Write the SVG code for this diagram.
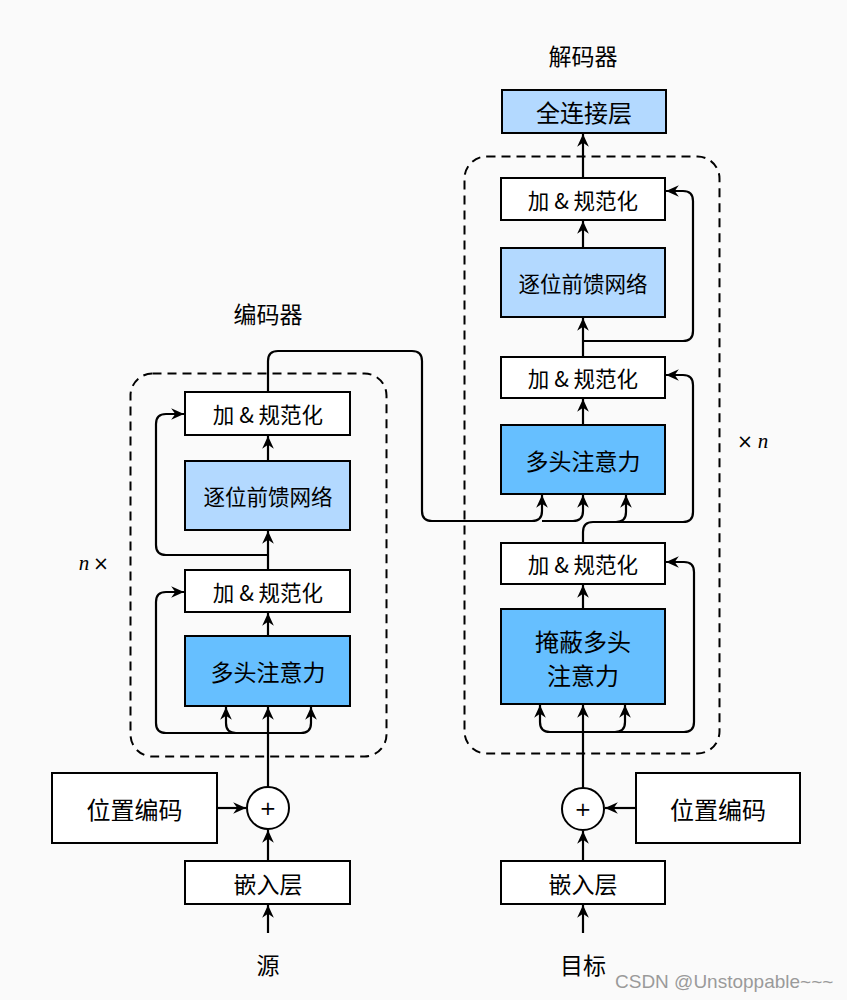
<svg xmlns="http://www.w3.org/2000/svg" width="847" height="1000" viewBox="0 0 847 1000">
<style>
.box{stroke:#000;stroke-width:2;fill:#fff}
.att{fill:#66bfff}
.ffn{fill:#b3d9ff}
.dash{fill:none;stroke:#000;stroke-width:2;stroke-dasharray:9 6}
.ln{fill:none;stroke:#000;stroke-width:2.2}
.arr{marker-end:url(#ah)}
text{font-family:"Noto Sans CJK SC","Noto Sans",sans-serif;fill:#000;text-anchor:middle;dominant-baseline:central}
.s20{font-size:21.5px}
.s23{font-size:23px}
.s24{font-size:24px}
.lbl{font-size:23px}
.it{font-family:"Liberation Serif",serif;font-style:italic;font-size:21px}
.x{font-family:"DejaVu Sans",sans-serif;font-size:19px}
.pl{font-family:"DejaVu Sans",sans-serif;font-size:20px}
.wm{font-family:"Liberation Sans",Arial,sans-serif;font-size:19px;fill:#9a9a9a;text-anchor:start}
</style>
<defs>
<marker id="ah" markerUnits="userSpaceOnUse" markerWidth="14" markerHeight="14" viewBox="0 0 12 12" refX="11" refY="6" orient="auto">
<path d="M0,1 L11,6 L0,11 L3.5,6 z" fill="#000"/>
</marker>
</defs>
<rect width="847" height="1000" fill="#fafafa"/>

<g id="labels">
<text x="268" y="313" class="lbl">编码器</text>
<text x="583" y="55" class="lbl">解码器</text>
<text x="84" y="563" class="it">n</text>
<text x="101" y="563" class="x">×</text>
<text x="745" y="441" class="x">×</text>
<text x="763" y="441" class="it">n</text>
<text x="268" y="964" class="s23">源</text>
<text x="583" y="964" class="s23">目标</text>
<text x="615" y="981" class="wm">CSDN @Unstoppable~~~</text>
</g>

<g id="enc-block"><rect x="130.5" y="373.5" width="256" height="383" rx="22" class="dash"/></g>
<g id="dec-block"><rect x="464.5" y="156.5" width="255" height="597" rx="22" class="dash"/></g>

<g id="enc-addnorm2"><rect x="185" y="392" width="165" height="43" class="box"/><text x="268" y="413.5" class="s20">加 &amp; 规范化</text></g>
<g id="enc-ffn"><rect x="185" y="461" width="165" height="69" class="box ffn"/><text x="268" y="495.5" class="s20">逐位前馈网络</text></g>
<g id="enc-addnorm1"><rect x="185" y="570" width="165" height="42" class="box"/><text x="268" y="591" class="s20">加 &amp; 规范化</text></g>
<g id="enc-att"><rect x="185" y="636" width="165" height="70" class="box att"/><text x="268" y="671" class="s23">多头注意力</text></g>
<g id="enc-pos"><rect x="52" y="773" width="165" height="70" class="box"/><text x="134.5" y="808" class="s24">位置编码</text></g>
<g id="enc-plus"><circle cx="268" cy="808" r="21" class="box"/><text x="268" y="808" class="pl">+</text></g>
<g id="enc-emb"><rect x="185" y="861" width="165" height="43" class="box"/><text x="268" y="882.5" class="s23">嵌入层</text></g>

<g id="dec-fc"><rect x="502" y="90" width="164" height="43" class="box ffn"/><text x="584" y="111.5" class="s24">全连接层</text></g>
<g id="dec-addnorm3"><rect x="501" y="178" width="164" height="42" class="box"/><text x="583" y="199" class="s20">加 &amp; 规范化</text></g>
<g id="dec-ffn"><rect x="501" y="248" width="164" height="69" class="box ffn"/><text x="583" y="282.5" class="s20">逐位前馈网络</text></g>
<g id="dec-addnorm2"><rect x="501" y="357" width="164" height="41" class="box"/><text x="583" y="377.5" class="s20">加 &amp; 规范化</text></g>
<g id="dec-att"><rect x="501" y="425" width="164" height="69" class="box att"/><text x="583" y="459.5" class="s23">多头注意力</text></g>
<g id="dec-addnorm1"><rect x="501" y="543" width="164" height="41" class="box"/><text x="583" y="563.5" class="s20">加 &amp; 规范化</text></g>
<g id="dec-mask"><rect x="501" y="609" width="164" height="95" class="box att"/><text x="583" y="640" class="s24">掩蔽多头</text><text x="583" y="674" class="s24">注意力</text></g>
<g id="dec-plus"><circle cx="583" cy="809" r="21" class="box"/><text x="583" y="809" class="pl">+</text></g>
<g id="dec-pos"><rect x="636" y="773" width="164" height="70" class="box"/><text x="718" y="808" class="s24">位置编码</text></g>
<g id="dec-emb"><rect x="501" y="861" width="164" height="43" class="box"/><text x="583" y="882.5" class="s23">嵌入层</text></g>

<g id="connectors">
<path class="ln arr" d="M268,933 V905"/>
<path class="ln arr" d="M268,861 V830"/>
<path class="ln arr" d="M217,808 H246"/>
<path class="ln arr" d="M268,787 V707"/>
<path class="ln arr" d="M268,733 H236 Q226,733 226,723 V707"/>
<path class="ln arr" d="M268,733 H301 Q311,733 311,723 V707"/>
<path class="ln arr" d="M268,733 H166 Q156,733 156,723 V602 Q156,592 166,592 H184"/>
<path class="ln arr" d="M268,636 V613"/>
<path class="ln arr" d="M268,570 V531"/>
<path class="ln arr" d="M268,555 H166 Q156,555 156,545 V424 Q156,414 166,414 H184"/>
<path class="ln arr" d="M268,461 V436"/>
<path class="ln arr" d="M268,392 V361 Q268,351 278,351 H412 Q422,351 422,361 V511 Q422,521 432,521 H532 Q542,521 542,511 V495"/>
<path class="ln arr" d="M542,521 H573 Q583,521 583,511 V495"/>
<path class="ln arr" d="M583,933 V905"/>
<path class="ln arr" d="M583,861 V831"/>
<path class="ln arr" d="M636,808 H605"/>
<path class="ln arr" d="M583,788 V705"/>
<path class="ln arr" d="M583,732 H550 Q540,732 540,722 V705"/>
<path class="ln arr" d="M583,732 H615 Q625,732 625,722 V705"/>
<path class="ln arr" d="M615,732 H684 Q694,732 694,722 V572 Q694,562 684,562 H666"/>
<path class="ln arr" d="M583,609 V585"/>
<path class="ln arr" d="M583,543 V532 Q583,522 593,522 H683 Q693,522 693,512 V385 Q693,375 683,375 H666"/>
<path class="ln arr" d="M593,522 H616 Q626,522 626,512 V495"/>
<path class="ln arr" d="M583,425 V399"/>
<path class="ln arr" d="M583,357 V318"/>
<path class="ln arr" d="M583,341 H683 Q693,341 693,331 V201 Q693,191 683,191 H666"/>
<path class="ln arr" d="M583,248 V221"/>
<path class="ln arr" d="M583,178 V134"/>
</g>
</svg>
